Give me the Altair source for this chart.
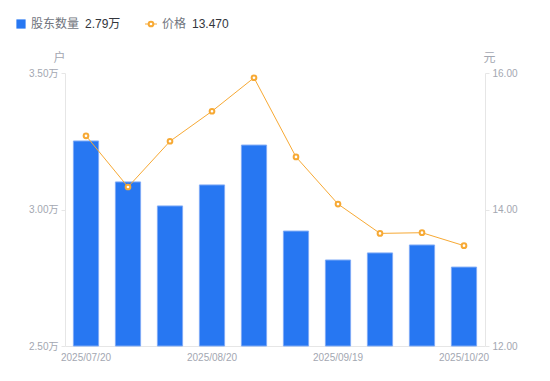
import altair as alt
import pandas as pd

# ---- data ----
dates = ["2025/07/20", "2025/07/31", "2025/08/10", "2025/08/20", "2025/08/29",
         "2025/09/10", "2025/09/19", "2025/09/30", "2025/10/10", "2025/10/20"]
holders = [3.251, 3.101, 3.013, 3.090, 3.236, 2.921, 2.815, 2.841, 2.870, 2.789]  # 万户
prices = [15.08, 14.33, 15.00, 15.44, 15.93, 14.77, 14.08, 13.65, 13.66, 13.47]   # 元
tick_dates = ["2025/07/20", "2025/08/20", "2025/09/19", "2025/10/20"]
left_ticks = [2.5, 3.0, 3.5]
right_ticks = [12, 14, 16]
legend_names = ["股东数量", "价格"]
legend_values = ["2.79万", "13.470"]

df = pd.DataFrame({"date": dates, "holders": holders, "price": prices})

FONT = "Liberation Sans, Noto Sans CJK SC, sans-serif"
BLUE = "#2777f2"
ORANGE = "#f7a934"
LABEL = "#a3a7b1"
AXIS = "#e6e6e6"

x = alt.X(
    "date:O", sort=None, title=None,
    scale=alt.Scale(paddingInner=0.4, paddingOuter=0.2),
    axis=alt.Axis(values=tick_dates, labelAngle=0, ticks=False, grid=False,
                  domainColor=AXIS, labelColor=LABEL, labelFontSize=10,
                  labelPadding=6, labelFont=FONT),
)

bars = alt.Chart(df).mark_bar(color=BLUE, stroke="#7fabf6", strokeWidth=1).encode(
    x=x,
    y=alt.Y("holders:Q",
            scale=alt.Scale(domain=[2.5, 3.5], zero=False, nice=False),
            axis=alt.Axis(values=left_ticks, grid=False,
                          labelExpr="format(datum.value, '.2f') + '万'",
                          title="户", titleAngle=0, titleX=-6, titleY=-16,
                          titleAlign="center", titleBaseline="middle",
                          titleColor=LABEL, titleFontSize=12, titleFontWeight="normal",
                          titleFont=FONT,
                          domainColor=AXIS, tickColor=AXIS, tickSize=4,
                          labelColor=LABEL, labelFontSize=10, labelPadding=3,
                          labelFont=FONT)),
    y2=alt.datum(2.5),
)

price_y = alt.Y("price:Q",
                scale=alt.Scale(domain=[12, 16], zero=False, nice=False),
                axis=alt.Axis(values=right_ticks, grid=False, orient="right",
                              format=".2f",
                              title="元", titleAngle=0, titleX=4, titleY=-16,
                              titleAlign="center", titleBaseline="middle",
                              titleColor=LABEL, titleFontSize=12, titleFontWeight="normal",
                              titleFont=FONT,
                              domainColor=AXIS, tickColor=AXIS, tickSize=4,
                              labelColor=LABEL, labelFontSize=10, labelPadding=3,
                              labelFont=FONT))

line = alt.Chart(df).mark_line(color=ORANGE, strokeWidth=1).encode(x=x, y=price_y)
pts = alt.Chart(df).mark_point(shape="circle", filled=True, fill="white", stroke=ORANGE,
                               strokeWidth=2, size=22, opacity=1).encode(x=x, y=price_y)
right = alt.layer(line, pts)

# ---- custom legend (top-left) ----
leg = pd.DataFrame({"name": legend_names, "value": legend_values})
leg_y = -49
sq = alt.Chart(leg.iloc[[0]]).mark_point(shape="square", filled=True, color=BLUE,
                                         size=85, opacity=1).encode(
    x=alt.value(-44), y=alt.value(leg_y))
name1 = alt.Chart(leg.iloc[[0]]).mark_text(align="left", baseline="middle", fontSize=12,
                                           color="#70747d", font=FONT).encode(
    x=alt.value(-34), y=alt.value(leg_y), text="name:N")
val1 = alt.Chart(leg.iloc[[0]]).mark_text(align="left", baseline="middle", fontSize=12,
                                          color="#33363d", font=FONT).encode(
    x=alt.value(20), y=alt.value(leg_y), text="value:N")
lrule = alt.Chart(leg.iloc[[1]]).mark_rule(color=ORANGE, strokeWidth=1).encode(
    x=alt.value(80), x2=alt.value(92), y=alt.value(leg_y))
lpt = alt.Chart(leg.iloc[[1]]).mark_point(shape="circle", filled=True, fill="white",
                                          stroke=ORANGE, strokeWidth=2, size=22,
                                          opacity=1).encode(
    x=alt.value(86), y=alt.value(leg_y))
name2 = alt.Chart(leg.iloc[[1]]).mark_text(align="left", baseline="middle", fontSize=12,
                                           color="#70747d", font=FONT).encode(
    x=alt.value(97), y=alt.value(leg_y), text="name:N")
val2 = alt.Chart(leg.iloc[[1]]).mark_text(align="left", baseline="middle", fontSize=12,
                                          color="#33363d", font=FONT).encode(
    x=alt.value(127), y=alt.value(leg_y), text="value:N")

chart = alt.layer(bars, right, sq, name1, val1, lrule, lpt, name2, val2).resolve_scale(
    y="independent"
).properties(
    width=420, height=273,
    background="white",
    autosize=alt.AutoSizeParams(type="none"),
    padding={"left": 57, "top": 65, "right": 57, "bottom": 27},
).configure_view(stroke=None)

chart.save("out.html", embed_options={"renderer": "svg", "actions": False})
